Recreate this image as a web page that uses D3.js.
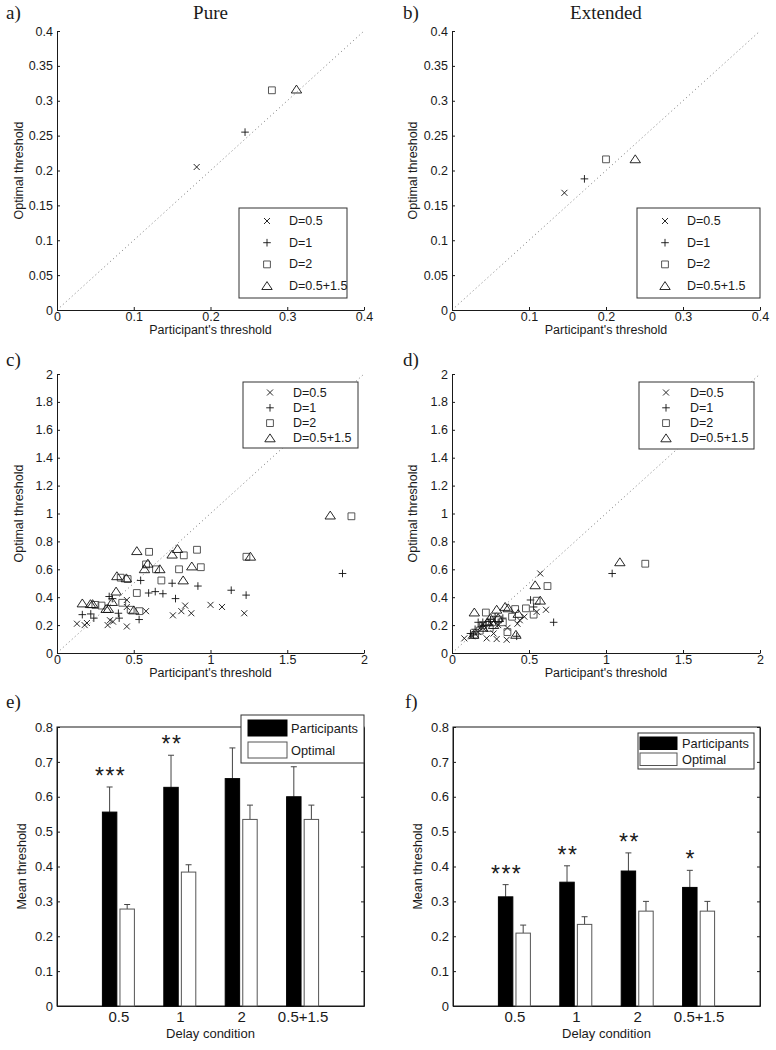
<!DOCTYPE html>
<html><head><meta charset="utf-8">
<script src="https://cdn.jsdelivr.net/npm/d3@7"></script>
<style>body{margin:0;background:#fff}</style>
</head><body><div id="chart"></div>
<script>
// ---------------- DATA ----------------
const conditionLabels = ["D=0.5", "D=1", "D=2", "D=0.5+1.5"];
const markerTypes = ["cross", "plus", "square", "triangle"];

// a) Pure: mean thresholds (participant vs optimal)
const pureMeanX = [0.182, 0.245, 0.280, 0.312];
const pureMeanY = [0.205, 0.255, 0.315, 0.316];
// b) Extended
const extMeanX = [0.146, 0.172, 0.200, 0.238];
const extMeanY = [0.168, 0.188, 0.216, 0.216];

// c) Pure: individual participants [participant, optimal]
const pureD05 = [[0.13,0.21],[0.18,0.20],[0.195,0.215],[0.33,0.20],[0.345,0.235],[0.365,0.225],[0.455,0.19],[0.455,0.38],[0.455,0.33],[0.58,0.30],[0.755,0.27],[0.81,0.30],[0.835,0.34],[0.875,0.285],[1.0,0.345],[1.075,0.33],[1.22,0.285]];
const pureD1 = [[0.165,0.275],[0.22,0.28],[0.24,0.25],[0.34,0.405],[0.36,0.39],[0.40,0.285],[0.405,0.25],[0.535,0.24],[0.545,0.52],[0.597,0.43],[0.64,0.44],[0.69,0.425],[0.75,0.50],[0.772,0.39],[0.918,0.48],[1.135,0.45],[1.232,0.415],[1.86,0.57]];
const pureD2 = [[0.25,0.345],[0.29,0.34],[0.425,0.36],[0.415,0.54],[0.46,0.53],[0.48,0.31],[0.52,0.43],[0.537,0.30],[0.60,0.725],[0.58,0.635],[0.645,0.60],[0.68,0.52],[0.795,0.60],[0.826,0.70],[0.912,0.74],[0.937,0.615],[1.234,0.69],[1.918,0.98]];
const pureD0515 = [[0.165,0.355],[0.218,0.35],[0.232,0.35],[0.32,0.315],[0.335,0.315],[0.36,0.365],[0.385,0.44],[0.39,0.55],[0.452,0.535],[0.50,0.305],[0.52,0.73],[0.57,0.60],[0.592,0.64],[0.67,0.60],[0.75,0.705],[0.785,0.745],[0.822,0.52],[0.878,0.62],[1.26,0.69],[1.78,0.985]];

// d) Extended: individual participants
const extD05 = [[0.08,0.105],[0.13,0.12],[0.17,0.15],[0.2,0.18],[0.225,0.105],[0.25,0.21],[0.27,0.14],[0.29,0.10],[0.3,0.2],[0.355,0.095],[0.36,0.18],[0.425,0.21],[0.44,0.235],[0.47,0.26],[0.55,0.295],[0.61,0.31],[0.573,0.57]];
const extD1 = [[0.12,0.14],[0.14,0.13],[0.15,0.17],[0.17,0.22],[0.19,0.19],[0.2,0.22],[0.22,0.2],[0.25,0.24],[0.28,0.26],[0.3,0.22],[0.33,0.25],[0.42,0.12],[0.51,0.38],[0.53,0.33],[0.66,0.22],[1.04,0.57]];
const extD2 = [[0.15,0.13],[0.18,0.16],[0.2,0.2],[0.22,0.29],[0.245,0.18],[0.26,0.22],[0.3,0.24],[0.33,0.22],[0.36,0.15],[0.39,0.26],[0.41,0.315],[0.48,0.32],[0.53,0.275],[0.55,0.375],[0.62,0.48],[1.255,0.64]];
const extD0515 = [[0.145,0.29],[0.14,0.13],[0.2,0.18],[0.23,0.22],[0.25,0.25],[0.27,0.2],[0.29,0.31],[0.3,0.25],[0.345,0.33],[0.365,0.32],[0.415,0.13],[0.43,0.28],[0.54,0.485],[0.573,0.375],[1.09,0.65]];

// e), f) bar charts
const delayConditions = ["0.5", "1", "2", "0.5+1.5"];
const barSeries = ["Participants", "Optimal"];
const purePartMean = [0.556, 0.627, 0.652, 0.600];
const purePartErr  = [0.072, 0.092, 0.088, 0.086];
const pureOptMean  = [0.278, 0.384, 0.535, 0.535];
const pureOptErr   = [0.013, 0.021, 0.041, 0.041];
const pureStars    = ["***", "**", "", ""];
const extPartMean  = [0.313, 0.355, 0.387, 0.340];
const extPartErr   = [0.035, 0.047, 0.052, 0.049];
const extOptMean   = [0.209, 0.234, 0.272, 0.272];
const extOptErr    = [0.023, 0.022, 0.028, 0.028];
const extStars     = ["***", "**", "**", "*"];

// tick values
const ticksAB_x = [0, 0.1, 0.2, 0.3, 0.4];
const ticksAB_y = [0, 0.05, 0.1, 0.15, 0.2, 0.25, 0.3, 0.35, 0.4];
const ticksCD_x = [0, 0.5, 1, 1.5, 2];
const ticksCD_y = [0, 0.2, 0.4, 0.6, 0.8, 1, 1.2, 1.4, 1.6, 1.8, 2];
const ticksEF_y = [0, 0.1, 0.2, 0.3, 0.4, 0.5, 0.6, 0.7, 0.8];

// ---------------- DRAWING ----------------
const SANS = "'Liberation Sans', Arial, Helvetica, sans-serif";
const SERIF = "'Liberation Serif', 'Times New Roman', serif";
const INK = "#1a1a1a";
const fmt = d => String(+d.toFixed(2));

const svg = d3.select("#chart").append("svg")
  .attr("width", 776).attr("height", 1050)
  .style("background", "#fff");

function markerPath(type) {
  if (type === "cross") return "M-3,-3L3,3M-3,3L3,-3";
  if (type === "plus") return "M-3.8,0L3.8,0M0,-3.8L0,3.8";
  if (type === "square") return "M-3.4,-3.4H3.4V3.4H-3.4Z";
  return "M0,-4.5L5.2,3.4H-5.2Z";
}
function markerColor(type) { return type === "square" ? "#444" : "#111"; }

function styleAxis(g, size) {
  g.selectAll(".domain").attr("stroke", INK).attr("stroke-width", 1);
  g.selectAll(".tick line").attr("stroke", INK).attr("stroke-width", 1);
  g.selectAll(".tick text").attr("fill", INK).style("font-family", SANS).style("font-size", size + "px");
}

function scatterPanel(p) {
  const x = d3.scaleLinear().domain([0, p.max]).range([p.left, p.right]);
  const y = d3.scaleLinear().domain([0, p.max]).range([p.bottom, p.top]);
  const g = svg.append("g");

  g.append("line")
    .attr("x1", x(0)).attr("y1", y(0)).attr("x2", x(p.max)).attr("y2", y(p.max))
    .attr("stroke", "#777").attr("stroke-width", 1).attr("stroke-dasharray", "1,3");

  const gx = g.append("g").attr("transform", `translate(0,${p.bottom})`)
    .call(d3.axisBottom(x).tickValues(p.xTicks).tickFormat(fmt).tickSizeInner(-3).tickSizeOuter(0).tickPadding(2));
  styleAxis(gx, 12.5);
  const gy = g.append("g").attr("transform", `translate(${p.left},0)`)
    .call(d3.axisLeft(y).tickValues(p.yTicks).tickFormat(fmt).tickSizeInner(-3).tickSizeOuter(0).tickPadding(4));
  styleAxis(gy, 12.5);

  p.series.forEach((pts, i) => {
    const t = markerTypes[i];
    g.append("g").selectAll("path").data(pts).join("path")
      .attr("transform", d => `translate(${x(d[0])},${y(d[1])})`)
      .attr("d", markerPath(t)).attr("fill", "none")
      .attr("stroke", markerColor(t)).attr("stroke-width", 0.9);
  });

  g.append("text").attr("x", (p.left + p.right) / 2).attr("y", p.bottom + 24)
    .attr("text-anchor", "middle")
    .style("font-family", SANS).style("font-size", "12.5px").attr("fill", INK)
    .text("Participant's threshold");
  g.append("text")
    .attr("transform", `translate(${p.ylabX},${(p.top + p.bottom) / 2}) rotate(-90)`)
    .attr("text-anchor", "middle").attr("dominant-baseline", "central")
    .style("font-family", SANS).style("font-size", "12.5px").attr("fill", INK)
    .text("Optimal threshold");

  const lb = p.legend;
  const lg = g.append("g");
  lg.append("rect").attr("x", lb.x0).attr("y", lb.y0).attr("width", lb.x1 - lb.x0).attr("height", lb.y1 - lb.y0)
    .attr("fill", "#fff").attr("stroke", "#333").attr("stroke-width", 1);
  conditionLabels.forEach((lab, i) => {
    const ry = lb.y0 + lb.pad + i * lb.step;
    lg.append("path").attr("transform", `translate(${lb.mx},${ry})`).attr("d", markerPath(markerTypes[i]))
      .attr("fill", "none").attr("stroke", markerColor(markerTypes[i])).attr("stroke-width", 0.9);
    lg.append("text").attr("x", lb.tx).attr("y", ry).attr("dominant-baseline", "central")
      .style("font-family", SANS).style("font-size", lb.fs + "px").attr("fill", INK).text(lab);
  });

  if (p.title) {
    svg.append("text").attr("x", (p.left + p.right) / 2).attr("y", 19).attr("text-anchor", "middle")
      .style("font-family", SERIF).style("font-size", "19px").attr("fill", INK).text(p.title);
  }
  svg.append("text").attr("x", p.letterX).attr("y", p.letterY)
    .style("font-family", SERIF).style("font-size", "19px").attr("fill", INK).text(p.letter);
}

const zip = (xs, ys) => xs.map((v, i) => [[v, ys[i]]]);

scatterPanel({ left: 57, right: 364, top: 31, bottom: 310, max: 0.4, xTicks: ticksAB_x, yTicks: ticksAB_y,
  series: zip(pureMeanX, pureMeanY), ylabX: 19, title: "Pure", letter: "a)", letterX: 6, letterY: 19,
  legend: { x0: 239, y0: 208, x1: 347, y1: 298, pad: 13, step: 21.7, mx: 267, tx: 289, fs: 12.5 } });
scatterPanel({ left: 452, right: 760, top: 31, bottom: 310, max: 0.4, xTicks: ticksAB_x, yTicks: ticksAB_y,
  series: zip(extMeanX, extMeanY), ylabX: 413, title: "Extended", letter: "b)", letterX: 403, letterY: 19,
  legend: { x0: 637, y0: 208, x1: 760, y1: 298, pad: 13, step: 21.7, mx: 665, tx: 687, fs: 12.5 } });
scatterPanel({ left: 57, right: 364, top: 374, bottom: 653, max: 2, xTicks: ticksCD_x, yTicks: ticksCD_y,
  series: [pureD05, pureD1, pureD2, pureD0515], ylabX: 19, letter: "c)", letterX: 6, letterY: 366,
  legend: { x0: 243, y0: 382, x1: 358, y1: 448, pad: 10.5, step: 15.3, mx: 270, tx: 293, fs: 12.5 } });
scatterPanel({ left: 452, right: 760, top: 374, bottom: 653, max: 2, xTicks: ticksCD_x, yTicks: ticksCD_y,
  series: [extD05, extD1, extD2, extD0515], ylabX: 413, letter: "d)", letterX: 403, letterY: 366,
  legend: { x0: 639, y0: 382, x1: 754, y1: 449, pad: 10.5, step: 15.3, mx: 666, tx: 690, fs: 12.5 } });

function barPanel(p) {
  const x = d3.scaleLinear().domain([0, 5]).range([p.left, p.right]);
  const y = d3.scaleLinear().domain([0, 0.8]).range([p.bottom, p.top]);
  const g = svg.append("g");
  const bw = 0.235, off = 0.143;

  g.append("rect").attr("x", p.left).attr("y", p.top).attr("width", p.right - p.left).attr("height", p.bottom - p.top)
    .attr("fill", "none").attr("stroke", INK).attr("stroke-width", 1);

  const gy = g.append("g").attr("transform", `translate(${p.left},0)`)
    .call(d3.axisLeft(y).tickValues(ticksEF_y).tickFormat(fmt).tickSizeInner(-3).tickSizeOuter(0).tickPadding(4));
  styleAxis(gy, 13);
  const gyr = g.append("g").attr("transform", `translate(${p.right},0)`)
    .call(d3.axisRight(y).tickValues(ticksEF_y).tickFormat("").tickSizeInner(-3).tickSizeOuter(0));
  styleAxis(gyr, 13);
  const gx = g.append("g").attr("transform", `translate(0,${p.bottom})`)
    .call(d3.axisBottom(x).tickValues([1, 2, 3, 4]).tickFormat(i => delayConditions[i - 1]).tickSizeInner(0).tickSizeOuter(0).tickPadding(5));
  styleAxis(gx, 15);

  const series = [
    { mean: p.part, err: p.partErr, dx: -off, fill: "#000", stroke: "#000", ec: "#444" },
    { mean: p.opt, err: p.optErr, dx: off, fill: "#fff", stroke: "#555", ec: "#444" }
  ];
  series.forEach(s => {
    s.mean.forEach((m, i) => {
      const cx = x(i + 1 + s.dx);
      const w = x(bw) - x(0);
      g.append("line").attr("x1", cx).attr("x2", cx).attr("y1", y(m)).attr("y2", y(m + s.err[i]))
        .attr("stroke", s.ec).attr("stroke-width", 1);
      g.append("line").attr("x1", cx - 3).attr("x2", cx + 3).attr("y1", y(m + s.err[i])).attr("y2", y(m + s.err[i]))
        .attr("stroke", s.ec).attr("stroke-width", 1);
      g.append("rect").attr("x", cx - w / 2).attr("y", y(m)).attr("width", w).attr("height", y(0) - y(m))
        .attr("fill", s.fill).attr("stroke", s.stroke).attr("stroke-width", 1);
    });
  });

  p.stars.forEach((st, i) => {
    if (!st) return;
    g.append("text").attr("x", x(i + 1 - off) + 1).attr("y", y(p.part[i] + p.partErr[i]) - 3)
      .attr("text-anchor", "middle").style("font-family", SANS).style("font-size", "23px")
      .style("letter-spacing", "1.5px").attr("fill", INK).text(st);
  });

  g.append("text").attr("x", (p.left + p.right) / 2).attr("y", 1033)
    .attr("text-anchor", "middle").attr("dominant-baseline", "central")
    .style("font-family", SANS).style("font-size", "13px").attr("fill", INK).text("Delay condition");
  g.append("text").attr("transform", `translate(${p.ylabX},${(p.top + p.bottom) / 2}) rotate(-90)`)
    .attr("text-anchor", "middle").attr("dominant-baseline", "central")
    .style("font-family", SANS).style("font-size", "12.5px").attr("fill", INK).text("Mean threshold");

  const L = p.legend;
  const lg = g.append("g");
  lg.append("rect").attr("x", L.x0).attr("y", L.y0).attr("width", L.x1 - L.x0).attr("height", L.y1 - L.y0)
    .attr("fill", "#fff").attr("stroke", "#333").attr("stroke-width", 1);
  barSeries.forEach((name, i) => {
    const sy = L.sy[i];
    lg.append("rect").attr("x", L.sx0).attr("y", sy).attr("width", L.sx1 - L.sx0).attr("height", L.sh)
      .attr("fill", i === 0 ? "#000" : "#fff").attr("stroke", i === 0 ? "#000" : "#555").attr("stroke-width", 1);
    lg.append("text").attr("x", L.tx).attr("y", sy + L.sh / 2).attr("dominant-baseline", "central")
      .style("font-family", SANS).style("font-size", L.fs + "px").attr("fill", INK).text(name);
  });

  svg.append("text").attr("x", p.letterX).attr("y", 708)
    .style("font-family", SERIF).style("font-size", "19px").attr("fill", INK).text(p.letter);
}

barPanel({ left: 57, right: 364, top: 727, bottom: 1006, part: purePartMean, partErr: purePartErr,
  opt: pureOptMean, optErr: pureOptErr, stars: pureStars, ylabX: 22, letter: "e)", letterX: 6,
  legend: { x0: 241, y0: 715, x1: 364, y1: 763, sx0: 248, sx1: 287, sy: [720, 742], sh: 16, tx: 291, fs: 12.8 } });
barPanel({ left: 453, right: 760, top: 727, bottom: 1006, part: extPartMean, partErr: extPartErr,
  opt: extOptMean, optErr: extOptErr, stars: extStars, ylabX: 418, letter: "f)", letterX: 405,
  legend: { x0: 638, y0: 733, x1: 754, y1: 769, sx0: 640, sx1: 677, sy: [737, 753], sh: 12.5, tx: 682, fs: 12.8 } });
</script>
</body></html>
